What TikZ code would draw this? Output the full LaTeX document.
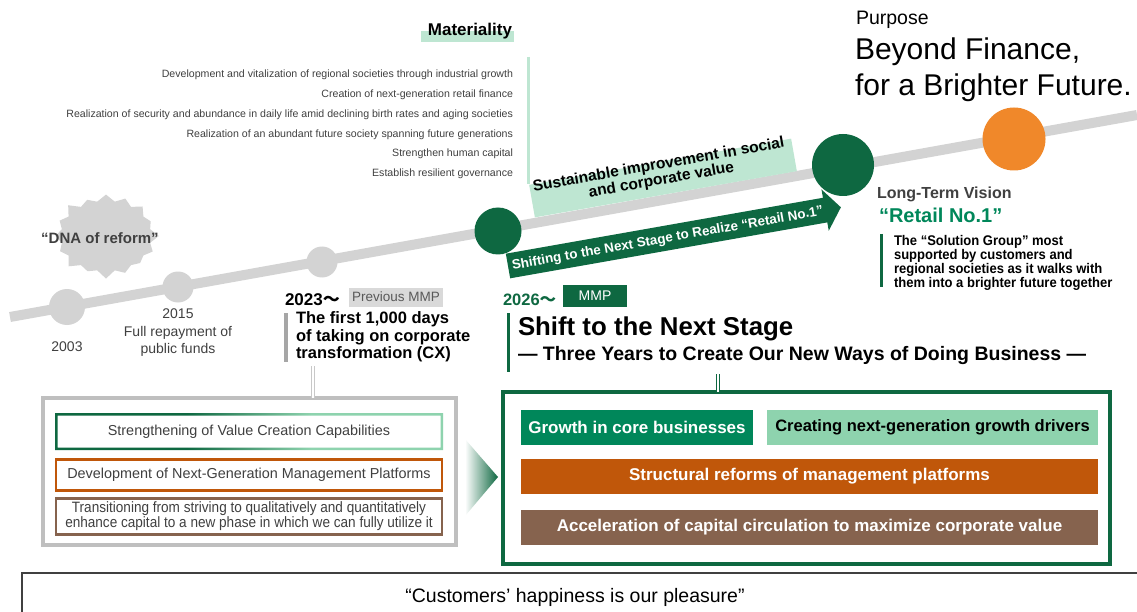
\documentclass[tikz,border=0pt]{standalone}
\usepackage{fontspec}
\setmainfont{Liberation Sans}
\newfontfamily\cjkf{Noto Sans CJK JP}
\newfontfamily\narrowf[FakeStretch=0.905]{Liberation Sans}
\newfontfamily\descf[FakeStretch=0.93]{Liberation Sans}
\usetikzlibrary{shapes.symbols}
\definecolor{dkgreen}{HTML}{0E6841}
\definecolor{midgreen}{HTML}{00875A}
\definecolor{ltgreen}{HTML}{8ED3AE}
\definecolor{palegreen}{HTML}{BEE6D2}
\definecolor{orng}{HTML}{C0570A}
\definecolor{brwn}{HTML}{86634E}
\definecolor{tlgray}{HTML}{D3D3D3}
\definecolor{orcircle}{HTML}{F0882A}
\definecolor{txtgray}{HTML}{404040}
\definecolor{boxgray}{HTML}{BFBFBF}
\definecolor{prevfill}{HTML}{D9D9D9}
\definecolor{prevtext}{HTML}{595959}
\definecolor{bargray}{HTML}{A6A6A6}
\definecolor{dblgray}{HTML}{C8C8C8}
\newcommand\fsz[2]{\fontsize{#1}{#2}\selectfont}
\pgfdeclarehorizontalshading{frameshade}{100bp}{color(0bp)=(dkgreen); color(42bp)=(dkgreen); color(58bp)=(ltgreen); color(100bp)=(ltgreen)}
\begin{document}
\begin{tikzpicture}[x=1pt,y=-1pt,
  every node/.style={inner sep=0pt,outer sep=0pt},
  dot/.style={circle,fill=tlgray,minimum size=#1},
  bigdot/.style={circle,minimum size=#1},
  vbar/.style={line width=3},
  dblline/.style={line width=1.1,double=white,double distance=2.6},
  fillbox/.style={minimum height=35,font=\fsz{17}{17}\bfseries},
  framebox/.style={minimum width=386,font=\fsz{14.4}{14.4},text=txtgray}
]
\useasboundingbox (0,0) rectangle (1137,612);
\fill[white] (0,0) rectangle (1137,612);

% ---------- Materiality ----------
\fill[palegreen] (421,31) rectangle (514,42);
\node[anchor=base east,font=\fsz{17}{17}\bfseries] (mat) at (512,36) {Materiality};
\node[anchor=north east,align=right,font=\fsz{10.6}{19.8},text=txtgray] (matl) at (513,70)
 {Development and vitalization of regional societies through industrial growth\\
  Creation of next-generation retail finance\\
  Realization of security and abundance in daily life amid declining birth rates and aging societies\\
  Realization of an abundant future society spanning future generations\\
  Strengthen human capital\\
  Establish resilient governance};
\draw[palegreen,line width=3] (528,57) -- (528,184);

% ---------- Purpose ----------
\node[anchor=base west,font=\fsz{19.5}{19.5}] (purp) at (856,25) {Purpose};
\node[anchor=base west,align=left,font=\fsz{30}{36}] (bf) at (855,96) {Beyond Finance,\\for a Brighter Future.};

% ---------- timeline ----------
\coordinate (ts) at (10,317);
\coordinate (te) at (1137,115);
\draw[tlgray,line width=10] (ts) -- (te);
\node[dot=36] (c2003) at (67,307) {};
\node[dot=31] (c2015) at (178,287) {};
\node[dot=31] (c2023) at (322,262) {};
\node[bigdot=47,fill=dkgreen] (cmmp) at (498,231) {};
\node[bigdot=62,fill=dkgreen] (cvis) at (843,165) {};
\node[bigdot=63,fill=orcircle] (cpur) at (1014,139) {};

% ---------- sustainable band ----------
\node[fill=palegreen,rotate=10,minimum width=266,minimum height=33] (sust) at (663,178) {};
\node[rotate=10,align=center,font=\fsz{15.5}{14}\bfseries] (susttxt) at (660,173) {Sustainable improvement in social\\and corporate value};

% ---------- shifting arrow ----------
\begin{scope}[shift={(508,266)},rotate=10]
\fill[dkgreen] (0,-12.5) -- (322,-12.5) -- (322,-21) -- (338,0) -- (322,21) -- (322,12.5) -- (0,12.5) -- cycle;
\node[rotate=10,text=white,font=\fsz{13.4}{13.4}\bfseries] (shtxt) at (162,1) {Shifting to the Next Stage to Realize “Retail No.1”};
\end{scope}

% ---------- DNA of reform ----------
\node[starburst,starburst points=16,starburst point height=9pt,fill=tlgray,minimum width=108pt,minimum height=88pt] (burst) at (106,236) {};
\node[font=\fsz{15}{15}\bfseries,text=txtgray] (dna) at (100,238) {“DNA of reform”};

% ---------- early labels ----------
\node[font=\fsz{14}{14},text=txtgray] (l2003) at (67,347) {2003};
\node[anchor=north,align=center,font=\fsz{14}{17.5},text=txtgray] (l2015) at (178,309) {2015\\Full repayment of\\public funds};

% ---------- 2023 ----------
\node[anchor=base west,font=\fsz{17}{17}\bfseries] (y23) at (285,305) {2023{\cjkf ～}};
\node[anchor=west,fill=prevfill,text=prevtext,font=\fsz{13.5}{13.5},minimum height=19,inner xsep=3] (prev) at (349,297) {Previous MMP};
\draw[bargray,line width=4] (286,313) -- (286,362);
\node[anchor=north west,align=left,font=\fsz{16.5}{17.5}\bfseries] (cx) at (296,312) {The first 1,000 days\\of taking on corporate\\transformation (CX)};

% ---------- left box ----------
\node[draw=boxgray,line width=4,minimum width=413,minimum height=147] (lbox) at (249.5,471.5) {};
\coordinate (d23) at (313,366);
\draw[dblline,draw=dblgray] (d23) -- (d23 |- lbox.north);
\shade[shading=frameshade,even odd rule] (55,413) rectangle (443,450) (57.5,415.5) rectangle (440.5,447.5);
\node[framebox,minimum height=37] (lb1) at (249,431.5) {Strengthening of Value Creation Capabilities};
\node[framebox,draw=orng,line width=2.5,minimum height=31] (lb2) at (249,475) {Development of Next-Generation Management Platforms};
\node[framebox,draw=brwn,line width=2.5,minimum height=36,align=center,font=\narrowf\fsz{15}{13.5}] (lb3) at (249,516.5) {Transitioning from striving to qualitatively and quantitatively\\enhance capital to a new phase in which we can fully utilize it};

% chevron
\shade[left color=white,right color=dkgreen] (465,439) -- (498,477) -- (465,516) -- cycle;

% ---------- 2026 MMP ----------
\node[anchor=base west,font=\fsz{16.5}{16.5}\bfseries,text=dkgreen] (y26) at (503,305) {2026{\cjkf ～}};
\node[anchor=west,fill=dkgreen,text=white,font=\fsz{14}{14},minimum height=22,minimum width=64] (mmp) at (563,296) {MMP};
\draw[dkgreen,vbar] (508,313) -- (508,372);
\node[anchor=base west,font=\fsz{25.8}{25.8}\bfseries] (shift) at (518,335) {Shift to the Next Stage};
\node[anchor=base west,font=\fsz{19.5}{19.5}\bfseries] (three) at (518,360) {— Three Years to Create Our New Ways of Doing Business —};

% ---------- right box ----------
\node[draw=dkgreen,line width=3.5,minimum width=607,minimum height=172] (rbox) at (806.5,478) {};
\coordinate (d26) at (718,374);
\draw[dblline,draw=dkgreen] (d26) -- (d26 |- rbox.north);
\node[fillbox,fill=midgreen,text=white,minimum width=232] (gr) at (637,427.5) {Growth in core businesses};
\node[fillbox,fill=ltgreen,text=black,minimum width=331,font=\fsz{16.5}{16.5}\bfseries] (cr) at (932.5,427.5) {Creating next-generation growth drivers};
\node[fillbox,fill=orng,text=white,minimum width=577] (st) at (809.5,476.5) {Structural reforms of management platforms};
\node[fillbox,fill=brwn,text=white,minimum width=577] (ac) at (809.5,527.5) {Acceleration of capital circulation to maximize corporate value};

% ---------- long-term vision ----------
\node[anchor=base west,font=\fsz{16}{16}\bfseries,text=txtgray] (ltv) at (877,199) {Long-Term Vision};
\node[anchor=base west,font=\fsz{20}{20}\bfseries,text=midgreen] (rn1) at (879,223) {“Retail No.1”};
\draw[dkgreen,vbar] (881,234) -- (881,287);
\node[anchor=north west,align=left,font=\descf\fsz{14}{13}\bfseries,text=black] (desc) at (894,235) {The “Solution Group” most\\supported by customers and\\regional societies as it walks with\\them into a brighter future together};

% ---------- motto ----------
\node[draw=txtgray,line width=2,anchor=north west,minimum width=1130,minimum height=50] (motto) at (22,573) {};
\node[font=\fsz{19.5}{19.5},text=black] (mottotxt) at (575,597) {“Customers’ happiness is our pleasure”};
\end{tikzpicture}
\end{document}
